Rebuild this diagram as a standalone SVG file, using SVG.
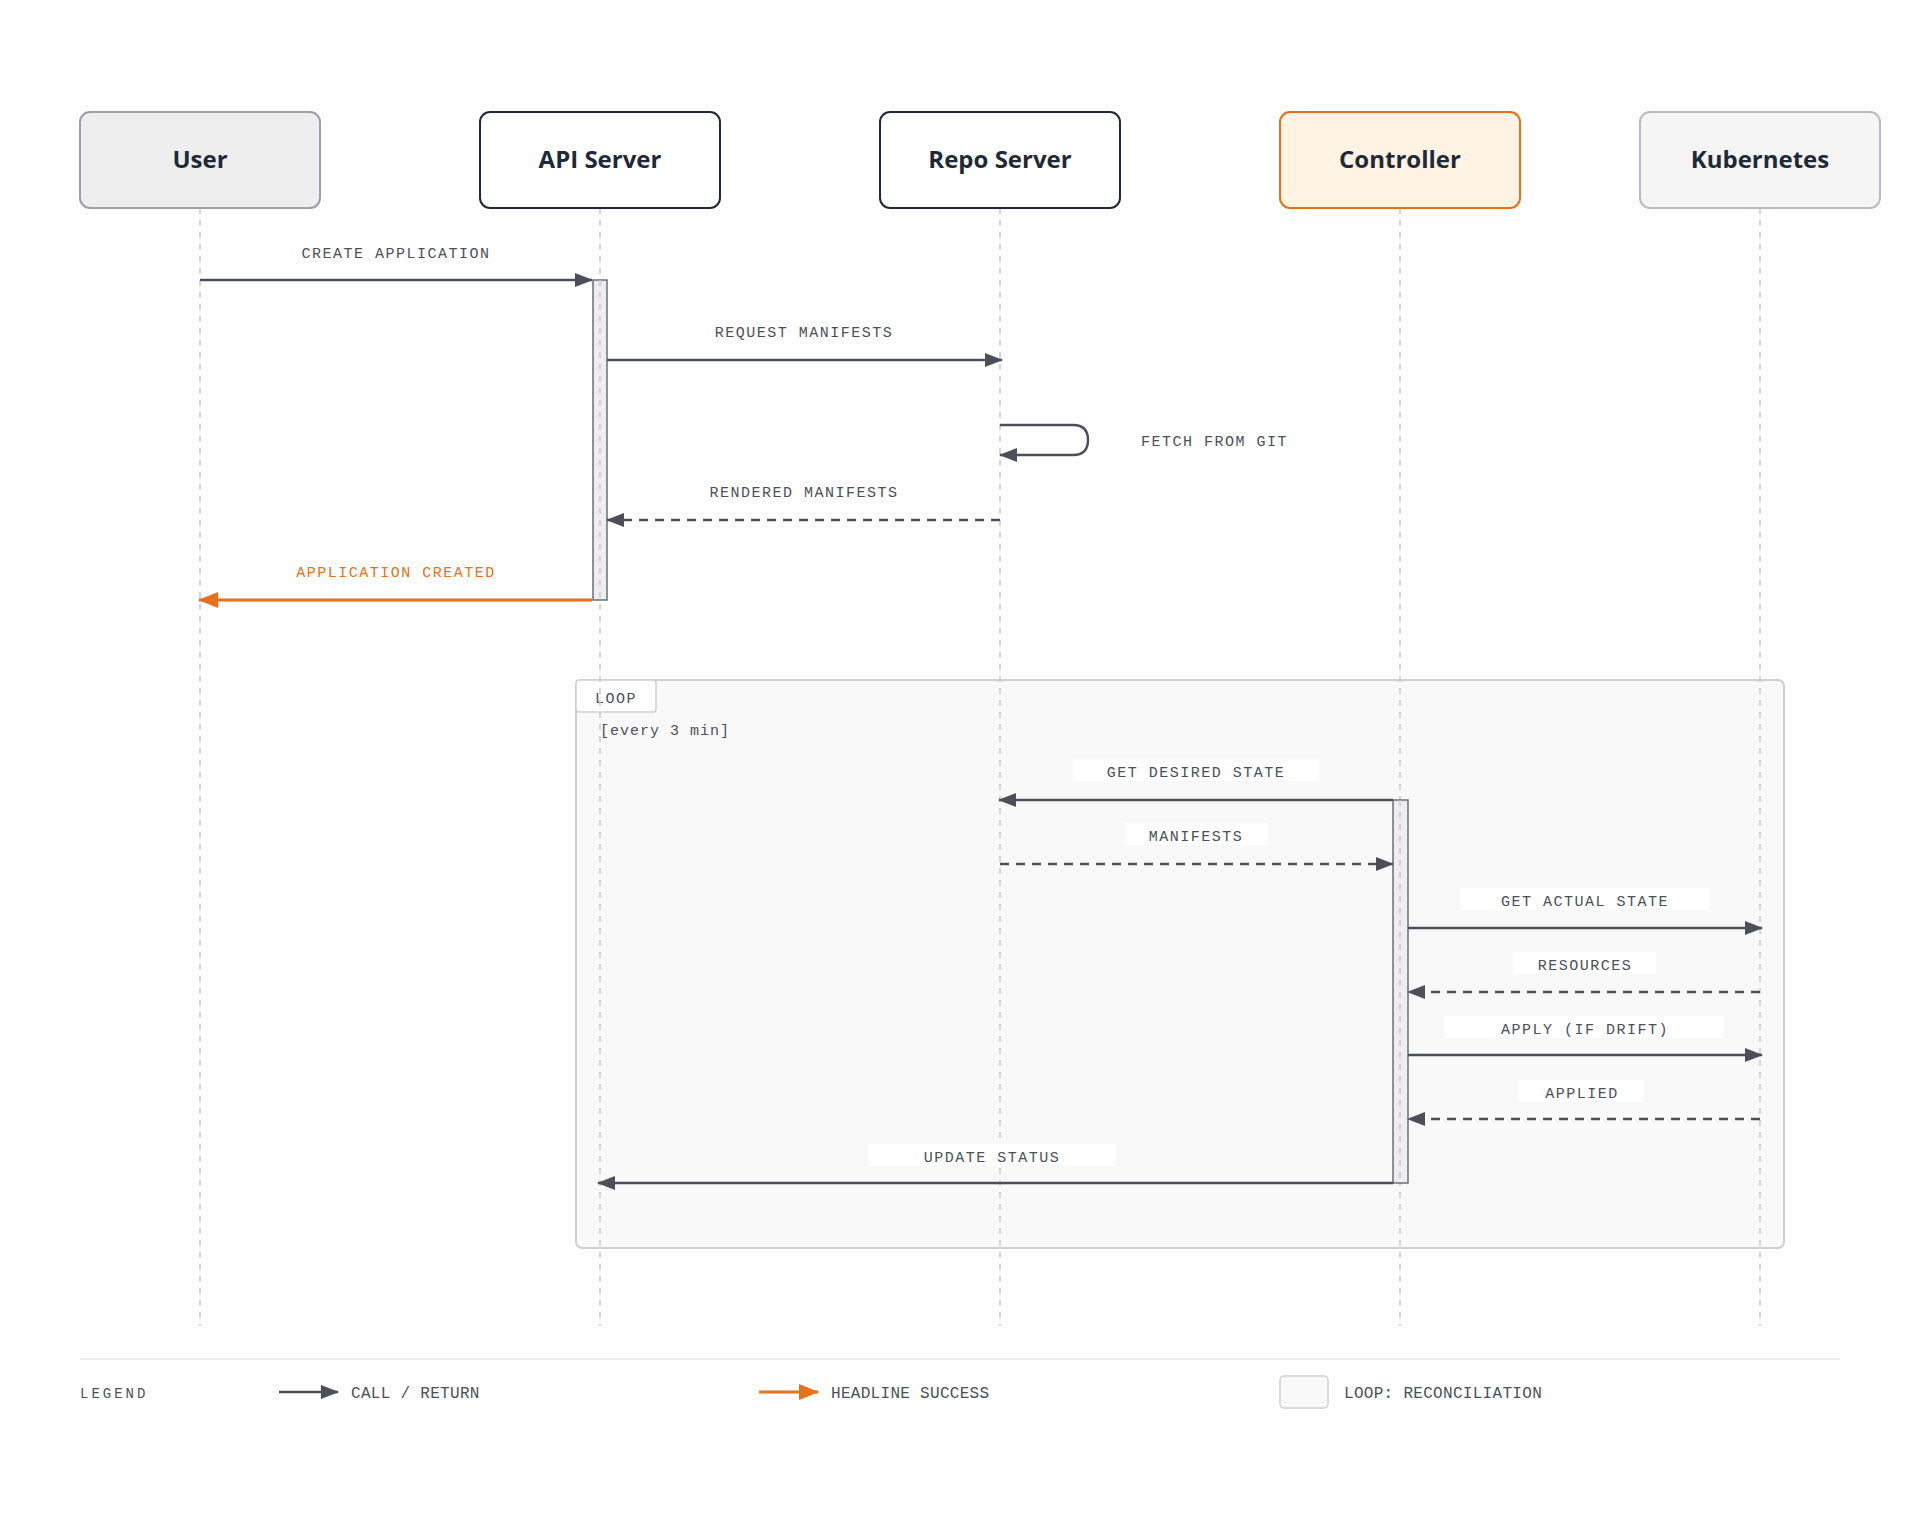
<svg xmlns="http://www.w3.org/2000/svg" width="1920" height="1520" viewBox="0 0 1920 1520">
<style>
.node{stroke-width:2}
.title{font-family:"Open Sans","Noto Sans",sans-serif;font-weight:700;font-size:24px;fill:#1f2937;text-anchor:middle}
.life{stroke:#c8c8cc;stroke-width:1.5;stroke-dasharray:6 6}
.lbl{font-family:"Liberation Mono","DejaVu Sans Mono",monospace;font-size:15px;fill:#4b5058;letter-spacing:1.5px;text-anchor:middle}
.leg{font-size:16px;letter-spacing:0.3px;text-anchor:start}
.msg{stroke:#4b5058;stroke-width:2.4;fill:none}
.dash{stroke-dasharray:9 7}
.act{fill:#eeeef0;stroke:#6b6f78;stroke-width:1.5}
.lb{fill:#ffffff}
</style>
<defs>
<marker id="ah" markerWidth="18" markerHeight="14" refX="17" refY="7" orient="auto" markerUnits="userSpaceOnUse"><path d="M0,0 L18,7 L0,14 z" fill="#4b5058"/></marker>
<marker id="ao" markerWidth="20" markerHeight="16" refX="19" refY="8" orient="auto" markerUnits="userSpaceOnUse"><path d="M0,0 L20,8 L0,16 z" fill="#e8701a"/></marker>
</defs>
<rect width="1920" height="1520" fill="#ffffff"/>
<g id="loop-frame">
<rect x="576" y="680" width="1208" height="568" rx="6" fill="#f9f9f9" stroke="#cfcfd3" stroke-width="2"/>
<rect x="576" y="680" width="80" height="32" rx="3" fill="#ffffff" stroke="#cfcfd3" stroke-width="1.5"/>
<text x="616" y="703" class="lbl">LOOP</text>
<text x="600" y="735" class="lbl" style="text-anchor:start;letter-spacing:1px">[every 3 min]</text>
</g>
<g id="lifelines">
<line x1="200" y1="208" x2="200" y2="1326" class="life"/>
<line x1="600" y1="208" x2="600" y2="1326" class="life"/>
<line x1="1000" y1="208" x2="1000" y2="1326" class="life"/>
<line x1="1400" y1="208" x2="1400" y2="1326" class="life"/>
<line x1="1760" y1="208" x2="1760" y2="1326" class="life"/>
</g>
<g id="user"><rect class="node" x="80" y="112" width="240" height="96" rx="10" fill="#eeeeef" stroke="#9aa0a9"/><text x="200" y="168" class="title">User</text></g>
<g id="api-server"><rect class="node" x="480" y="112" width="240" height="96" rx="10" fill="#ffffff" stroke="#1f2937"/><text x="600" y="168" class="title">API Server</text></g>
<g id="repo-server"><rect class="node" x="880" y="112" width="240" height="96" rx="10" fill="#ffffff" stroke="#1f2937"/><text x="1000" y="168" class="title">Repo Server</text></g>
<g id="controller"><rect class="node" x="1280" y="112" width="240" height="96" rx="10" fill="#fff4e3" stroke="#e8701a"/><text x="1400" y="168" class="title">Controller</text></g>
<g id="kubernetes"><rect class="node" x="1640" y="112" width="240" height="96" rx="10" fill="#f5f5f6" stroke="#b8bcc2"/><text x="1760" y="168" class="title">Kubernetes</text></g>
<g id="activations">
<rect x="593" y="280" width="14" height="320" class="act"/>
<rect x="1393" y="800" width="15" height="383" class="act"/>
<line x1="600" y1="280" x2="600" y2="600" class="life"/>
<line x1="1400" y1="800" x2="1400" y2="1183" class="life"/>
</g>
<g id="connectors">
<line x1="200" y1="280" x2="592" y2="280" class="msg" marker-end="url(#ah)"/>
<text x="396" y="258" class="lbl">CREATE APPLICATION</text>
<line x1="607" y1="360" x2="1002" y2="360" class="msg" marker-end="url(#ah)"/>
<text x="804" y="337" class="lbl">REQUEST MANIFESTS</text>
<path d="M1000,425 H1073 Q1088,425 1088,440 Q1088,455 1073,455 H1000" class="msg" marker-end="url(#ah)"/>
<text x="1141" y="446" class="lbl" style="text-anchor:start">FETCH FROM GIT</text>
<line x1="1000" y1="520" x2="607" y2="520" class="msg dash" marker-end="url(#ah)"/>
<text x="804" y="497" class="lbl">RENDERED MANIFESTS</text>
<line x1="592" y1="600" x2="199" y2="600" style="stroke:#e8701a;stroke-width:3;fill:none" marker-end="url(#ao)"/>
<text x="396" y="577" class="lbl" style="fill:#e8701a">APPLICATION CREATED</text>

<rect x="1073" y="759" width="246" height="22" class="lb"/>
<text x="1196" y="777" class="lbl">GET DESIRED STATE</text>
<line x1="1393" y1="800" x2="999" y2="800" class="msg" marker-end="url(#ah)"/>
<rect x="1125" y="823" width="143" height="22" class="lb"/>
<text x="1196" y="841" class="lbl">MANIFESTS</text>
<line x1="1000" y1="864" x2="1393" y2="864" class="msg dash" marker-end="url(#ah)"/>
<rect x="1460" y="888" width="250" height="22" class="lb"/>
<text x="1585" y="906" class="lbl">GET ACTUAL STATE</text>
<line x1="1408" y1="928" x2="1762" y2="928" class="msg" marker-end="url(#ah)"/>
<rect x="1513" y="952" width="143" height="22" class="lb"/>
<text x="1585" y="970" class="lbl">RESOURCES</text>
<line x1="1760" y1="992" x2="1408" y2="992" class="msg dash" marker-end="url(#ah)"/>
<rect x="1444" y="1016" width="280" height="22" class="lb"/>
<text x="1585" y="1034" class="lbl">APPLY (IF DRIFT)</text>
<line x1="1408" y1="1055" x2="1762" y2="1055" class="msg" marker-end="url(#ah)"/>
<rect x="1518" y="1080" width="126" height="22" class="lb"/>
<text x="1582" y="1098" class="lbl">APPLIED</text>
<line x1="1760" y1="1119" x2="1408" y2="1119" class="msg dash" marker-end="url(#ah)"/>
<rect x="868" y="1144" width="248" height="22" class="lb"/>
<text x="992" y="1162" class="lbl">UPDATE STATUS</text>
<line x1="1393" y1="1183" x2="598" y2="1183" class="msg" marker-end="url(#ah)"/>
</g>
<g id="legend">
<line x1="80" y1="1359" x2="1840" y2="1359" stroke="#ececec" stroke-width="2"/>
<text x="80" y="1398" class="lbl" style="text-anchor:start;letter-spacing:3px;font-size:14px">LEGEND</text>
<line x1="279" y1="1392" x2="338" y2="1392" class="msg" marker-end="url(#ah)"/>
<text x="351" y="1398" class="lbl leg">CALL / RETURN</text>
<line x1="759" y1="1392" x2="818" y2="1392" style="stroke:#e8701a;stroke-width:3" marker-end="url(#ao)"/>
<text x="831" y="1398" class="lbl leg">HEADLINE SUCCESS</text>
<rect x="1280" y="1376" width="48" height="32" rx="4" fill="#f9f9f9" stroke="#cfcfd3" stroke-width="1.5"/>
<text x="1344" y="1398" class="lbl leg">LOOP: RECONCILIATION</text>
</g>
</svg>
